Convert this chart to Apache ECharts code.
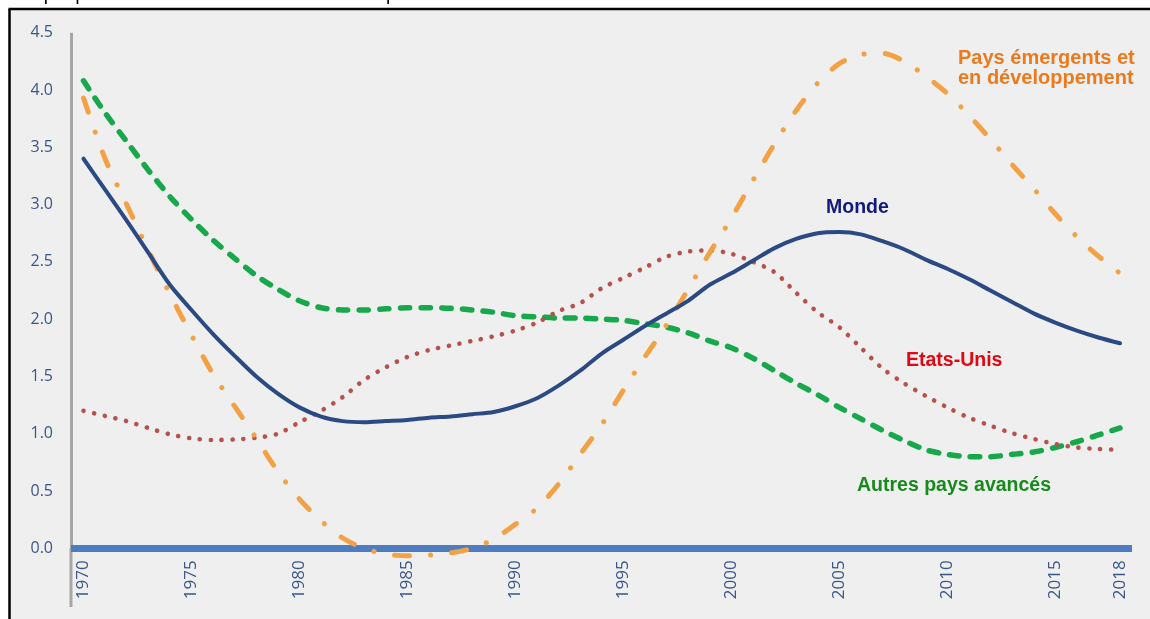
<!DOCTYPE html>
<html>
<head>
<meta charset="utf-8">
<script src="https://cdn.jsdelivr.net/npm/echarts@6/dist/echarts.min.js"></script>
<style>
  html, body { margin: 0; padding: 0; background: #ffffff; }
  #chart { width: 1150px; height: 619px; }
</style>
</head>
<body>
<div id="chart"></div>
<script>
// ---- data ----
const years = [1970,1971,1972,1973,1974,1975,1976,1977,1978,1979,
               1980,1981,1982,1983,1984,1985,1986,1987,1988,1989,
               1990,1991,1992,1993,1994,1995,1996,1997,1998,1999,
               2000,2001,2002,2003,2004,2005,2006,2007,2008,2009,
               2010,2011,2012,2013,2014,2015,2016,2017,2018];

const monde = [3.40,3.13,2.86,2.58,2.30,2.08,1.87,1.68,1.50,1.35,
               1.23,1.15,1.11,1.10,1.11,1.12,1.14,1.15,1.17,1.19,
               1.24,1.31,1.42,1.55,1.70,1.82,1.94,2.05,2.16,2.30,
               2.40,2.51,2.62,2.70,2.75,2.76,2.74,2.68,2.61,2.52,
               2.44,2.35,2.25,2.15,2.05,1.97,1.90,1.84,1.79];

const emergents = [3.93,3.40,3.00,2.60,2.22,1.86,1.52,1.24,0.96,0.67,
                   0.43,0.24,0.09,0.00,-0.05,-0.065,-0.06,-0.04,0.00,0.08,
                   0.21,0.35,0.56,0.82,1.08,1.38,1.67,1.95,2.26,2.58,
                   2.88,3.21,3.53,3.82,4.06,4.23,4.31,4.32,4.25,4.12,
                   3.97,3.78,3.57,3.35,3.14,2.92,2.72,2.55,2.40];

const autresAvances = [4.08,3.80,3.55,3.30,3.07,2.87,2.69,2.53,2.38,2.26,
                       2.16,2.10,2.08,2.08,2.09,2.10,2.10,2.095,2.08,2.06,
                       2.03,2.02,2.01,2.01,2.00,1.99,1.96,1.93,1.88,1.81,
                       1.75,1.66,1.55,1.44,1.34,1.23,1.13,1.03,0.94,0.86,
                       0.82,0.80,0.80,0.82,0.84,0.88,0.93,0.99,1.05];

const etatsUnis = [1.20,1.155,1.11,1.05,0.995,0.96,0.945,0.95,0.965,1.00,
                   1.10,1.20,1.32,1.47,1.58,1.67,1.73,1.77,1.81,1.85,
                   1.90,1.97,2.07,2.14,2.27,2.36,2.45,2.545,2.59,2.60,
                   2.57,2.50,2.41,2.23,2.06,1.93,1.75,1.57,1.44,1.33,
                   1.23,1.14,1.07,1.005,0.955,0.91,0.88,0.867,0.86];

const xTickYears = [1970,1975,1980,1985,1990,1995,2000,2005,2010,2015,2018];

const seriesNames = ['Monde','Etats-Unis','Autres pays avancés','Pays émergents et\nen développement'];
const titleText = 'Graphique 1 : Croissance tendancielle de la productivité du travail';

// ---- chart ----
const pair = arr => years.map((y, i) => [y, arr[i]]);

const chart = echarts.init(document.getElementById('chart'), null, { renderer: 'canvas' });

const labelFont = '"Open Sans", "Noto Sans", sans-serif';
const annFont = '"Liberation Sans", Arial, sans-serif';

chart.setOption({
  animation: false,
  backgroundColor: '#ffffff',
  grid: { left: 71, right: 18, top: 32.7, bottom: 70.7, containLabel: false, outerBoundsMode: 'none' },
  xAxis: {
    type: 'value',
    position: 'bottom',
    min: 1969.421,
    max: 2018.556,
    splitLine: { show: false },
    axisTick: { show: false },
    axisLine: { show: true, onZero: false, lineStyle: { color: '#4d7cc0', width: 7, cap: 'butt' } },
    axisLabel: {
      customValues: xTickYears,
      rotate: 90,
      margin: 12,
      color: '#3b5688',
      fontFamily: labelFont,
      fontSize: 17,
      formatter: v => String(v)
    }
  },
  yAxis: {
    type: 'value',
    min: 0,
    max: 4.5,
    interval: 0.5,
    splitLine: { show: false },
    axisTick: { show: false },
    axisLine: { show: true, onZero: false, lineStyle: { color: '#a6a6a6', width: 3, cap: 'butt' } },
    axisLabel: {
      margin: 18,
      color: '#3b5688',
      fontFamily: labelFont,
      fontSize: 16,
      formatter: v => v.toFixed(1)
    }
  },
  series: [
    {
      name: seriesNames[2], type: 'line', smooth: 0.3, symbol: 'none', z: 3, clip: false,
      data: pair(autresAvances),
      lineStyle: { color: '#17a84b', width: 5.5, type: [9.5, 11.2], cap: 'round' }
    },
    {
      name: seriesNames[1], type: 'line', smooth: 0.3, symbol: 'none', z: 3, clip: false,
      data: pair(etatsUnis),
      lineStyle: { color: '#b8514b', width: 4.6, type: [0.1, 10.8], cap: 'round' }
    },
    {
      name: seriesNames[3], type: 'line', smooth: 0.3, symbol: 'none', z: 4, clip: false,
      data: pair(emergents),
      lineStyle: { color: '#f2a145', width: 5, type: [15, 21, 0.1, 21], cap: 'round' }
    },
    {
      name: seriesNames[0], type: 'line', smooth: 0.3, symbol: 'none', z: 5, clip: false,
      data: pair(monde),
      lineStyle: { color: '#2b4a84', width: 4, cap: 'round' }
    }
  ],
  graphic: [
    { type: 'rect', z: -10, silent: true,
      shape: { x: 9, y: 9, width: 1141, height: 610 },
      style: { fill: '#efefef' } },
    { type: 'line', z: -5, silent: true,
      shape: { x1: 9.5, y1: 9, x2: 9.5, y2: 619 },
      style: { stroke: '#000000', lineWidth: 2.5 } },
    { type: 'line', z: -5, silent: true,
      shape: { x1: 8.5, y1: 9, x2: 1150, y2: 9 },
      style: { stroke: '#000000', lineWidth: 2.5 } },
    // extension of the vertical axis line below the zero baseline
    { type: 'line', z: -4, silent: true,
      shape: { x1: 71, y1: 548, x2: 71, y2: 607 },
      style: { stroke: '#a6a6a6', lineWidth: 3 } },
    { type: 'text', z: -6, silent: true,
      style: { text: titleText, x: 12, y: 4, fill: '#000000',
               font: '19px "Liberation Sans", Arial, sans-serif',
               textVerticalAlign: 'bottom' } },
    { type: 'text', silent: true,
      style: { text: seriesNames[0], x: 826, y: 208, fill: '#101a82',
               font: 'bold 19.5px ' + annFont, textAlign: 'left', textVerticalAlign: 'middle' } },
    { type: 'text', silent: true,
      style: { text: seriesNames[1], x: 906, y: 360.5, fill: '#e30613',
               font: 'bold 19.5px ' + annFont, textAlign: 'left', textVerticalAlign: 'middle' } },
    { type: 'text', silent: true,
      style: { text: seriesNames[2], x: 857, y: 486, fill: '#168a1a',
               font: 'bold 19.5px ' + annFont, textAlign: 'left', textVerticalAlign: 'middle' } },
    { type: 'text', silent: true,
      style: { text: seriesNames[3].split('\n')[0], x: 958, y: 58, fill: '#ec7a1c',
               font: 'bold 20px ' + annFont, textAlign: 'left', textVerticalAlign: 'middle' } },
    { type: 'text', silent: true,
      style: { text: seriesNames[3].split('\n')[1], x: 958, y: 78, fill: '#ec7a1c',
               font: 'bold 20px ' + annFont, textAlign: 'left', textVerticalAlign: 'middle' } }
  ]
});
</script>
</body>
</html>
